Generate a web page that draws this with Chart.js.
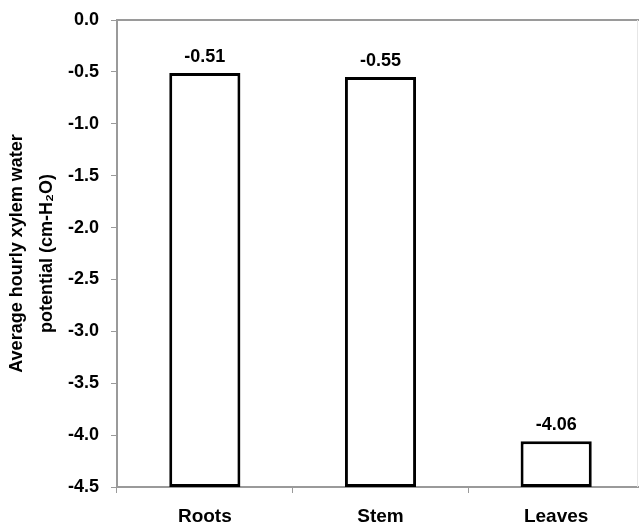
<!DOCTYPE html>
<html>
<head>
<meta charset="utf-8">
<script src="https://cdn.jsdelivr.net/npm/chart.js@4/dist/chart.umd.min.js"></script>
<style>
html,body{margin:0;padding:0;background:#fff;overflow:hidden;}
#wrap{width:650px;height:525px;}
</style>
</head>
<body>
<div id="wrap"><canvas id="c" width="650" height="525"></canvas></div>
<script>
const categories = ["Roots", "Stem", "Leaves"];
const potentials = [-0.51, -0.55, -4.06];
const yMin = -4.5;
const yMax = 0.0;
const yStep = 0.5;
const yTitle = ["Average hourly xylem water", "potential (cm-H\u2082O)"];

const FONT = "'Liberation Sans', Arial, sans-serif";

const valueLabels = {
  id: 'valueLabels',
  afterDatasetsDraw(chart) {
    const ctx = chart.ctx;
    const meta = chart.getDatasetMeta(0);
    const ys = chart.scales.y;
    ctx.save();
    ctx.font = "bold 18px " + FONT;
    ctx.fillStyle = "#000";
    ctx.textAlign = "center";
    ctx.textBaseline = "alphabetic";
    meta.data.forEach((el, i) => {
      const top = ys.getPixelForValue(potentials[i]);
      ctx.fillText(potentials[i].toFixed(2), el.x, top - 11);
    });
    ctx.restore();
  }
};

const frame = {
  id: 'frame',
  beforeDatasetsDraw(chart) {
    const {ctx, chartArea} = chart;
    ctx.save();
    ctx.strokeStyle = "#9a9a9a";
    ctx.lineWidth = 2;
    ctx.beginPath();
    ctx.moveTo(chartArea.left, chartArea.top);
    ctx.lineTo(chartArea.right, chartArea.top);
    ctx.stroke();
    ctx.strokeStyle = "#e6e6e6";
    ctx.lineWidth = 1;
    ctx.beginPath();
    ctx.moveTo(637.5, chartArea.top);
    ctx.lineTo(637.5, chartArea.bottom);
    ctx.stroke();
    ctx.restore();
  }
};

new Chart(document.getElementById('c'), {
  type: 'bar',
  data: {
    labels: categories,
    datasets: [{
      data: potentials.map(v => [yMin, v]),
      backgroundColor: "#ffffff",
      borderColor: "#000000",
      borderWidth: 3,
      borderSkipped: false,
      categoryPercentage: 1.0,
      barPercentage: 0.405
    }]
  },
  options: {
    responsive: false,
    animation: false,
    devicePixelRatio: 1,
    layout: { padding: { top: 20, right: 6, bottom: 0, left: 0 } },
    plugins: { legend: { display: false }, tooltip: { enabled: false } },
    scales: {
      x: {
        afterFit(s) { s.height = 38; s.paddingLeft = 0; s.paddingRight = 0; },
        grid: { display: true, drawOnChartArea: false, drawTicks: true, tickLength: 6, tickColor: "#9a9a9a", offset: true },
        border: { display: true, color: "#9a9a9a", width: 2 },
        ticks: { color: "#000", font: { family: FONT, size: 19, weight: "bold" }, padding: 12 }
      },
      y: {
        min: yMin, max: yMax,
        afterFit(s) { s.width = 117; s.paddingTop = 0; s.paddingBottom = 0; },
        grid: { display: true, drawOnChartArea: false, drawTicks: true, tickLength: 6, tickColor: "#9a9a9a" },
        border: { display: true, color: "#9a9a9a", width: 2 },
        ticks: {
          stepSize: yStep,
          color: "#000",
          font: { family: FONT, size: 18, weight: "bold" },
          padding: 12,
          callback: v => Number(v).toFixed(1)
        },
        title: {
          display: true,
          text: yTitle,
          color: "#000",
          font: { family: FONT, size: 18, weight: "bold", lineHeight: 1.65 },
          padding: { top: 2, bottom: 0 }
        }
      }
    }
  },
  plugins: [frame, valueLabels]
});
</script>
</body>
</html>
